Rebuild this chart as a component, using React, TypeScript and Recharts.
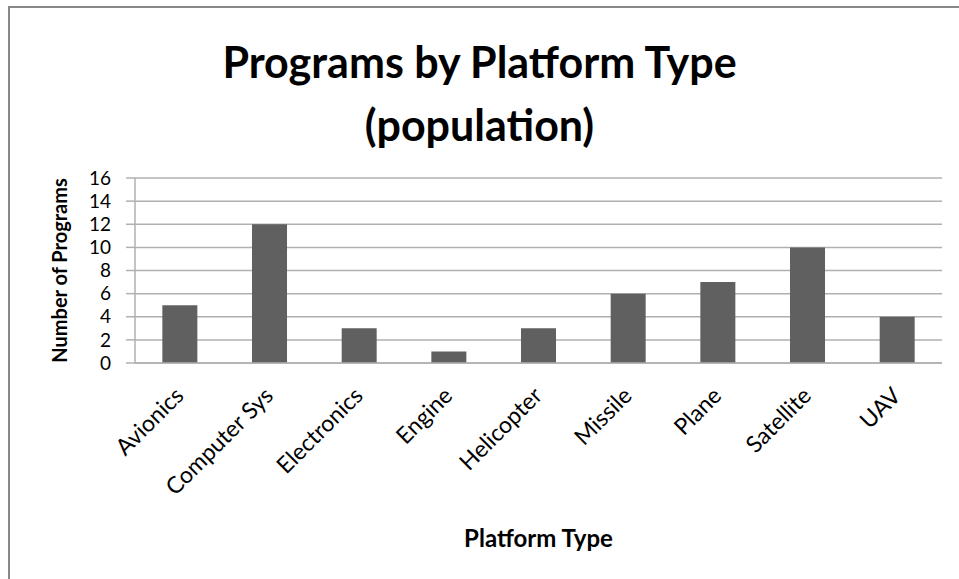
import React from "react"
import { BarChart, Bar, XAxis, YAxis, CartesianGrid, Label } from "recharts"

const platforms = [
  "Avionics",
  "Computer Sys",
  "Electronics",
  "Engine",
  "Helicopter",
  "Missile",
  "Plane",
  "Satellite",
  "UAV",
]
const programCounts = [5, 12, 3, 1, 3, 6, 7, 10, 4]
const yTicks = [0, 2, 4, 6, 8, 10, 12, 14, 16]

const chartData = platforms.map((p, i) => ({ platform: p, programs: programCounts[i] }))

const FONT = "Lato, 'Open Sans', sans-serif"

function SlantTick(props: any) {
  const { x, y, payload } = props
  return (
    <g transform={`translate(${x + 1},${y + 22})`}>
      <text
        transform="rotate(-45)"
        textAnchor="end"
        dominantBaseline="middle"
        fontFamily={FONT}
        fontSize={23}
        fill="#000"
      >
        {payload.value}
      </text>
    </g>
  )
}

export default function App() {
  return (
    <div style={{ position: "absolute", left: 0, top: 0, width: 959, height: 579, background: "#fff" }}>
      <div
        style={{
          position: "absolute",
          left: 8,
          top: 6,
          right: 0,
          bottom: 0,
          borderTop: "2px solid #888",
          borderLeft: "2px solid #888",
        }}
      />
      <div
        style={{
          position: "absolute",
          left: 0,
          top: 30,
          width: 959,
          textAlign: "center",
          fontFamily: FONT,
          fontWeight: 700,
          fontSize: 43,
          lineHeight: "63px",
          color: "#000",
        }}
      >
        Programs by Platform Type
        <br />
        (population)
      </div>
      <div style={{ position: "absolute", left: 0, top: 0 }}>
        <BarChart
          width={959}
          height={579}
          data={chartData}
          margin={{ top: 178, right: 17, left: 0, bottom: 0 }}
          barCategoryGap="30.5%"
        >
          <CartesianGrid vertical={false} stroke="#b0b0b0" strokeWidth={1.5} />
          <XAxis
            dataKey="platform"
            height={216}
            interval={0}
            tickLine={false}
            axisLine={{ stroke: "#b0b0b0", strokeWidth: 1.5 }}
            tick={<SlantTick />}
          >
            <Label
              value="Platform Type"
              position="insideBottom"
              offset={32}
              style={{ fontFamily: FONT, fontWeight: 700, fontSize: 24, fill: "#000" }}
            />
          </XAxis>
          <YAxis
            width={135}
            domain={[0, 16]}
            ticks={yTicks}
            interval={0}
            tickSize={9}
            tickMargin={15}
            tickLine={{ stroke: "#b0b0b0", strokeWidth: 1.5 }}
            axisLine={{ stroke: "#b0b0b0", strokeWidth: 1.5 }}
            tick={{ fontFamily: FONT, fontSize: 19, fill: "#000" }}
          >
            <Label
              value="Number of Programs"
              angle={-90}
              position="insideLeft"
              offset={60}
              style={{ fontFamily: FONT, fontWeight: 700, fontSize: 20, fill: "#000", textAnchor: "middle" }}
            />
          </YAxis>
          <Bar dataKey="programs" fill="#606060" isAnimationActive={false} />
        </BarChart>
      </div>
    </div>
  )
}
